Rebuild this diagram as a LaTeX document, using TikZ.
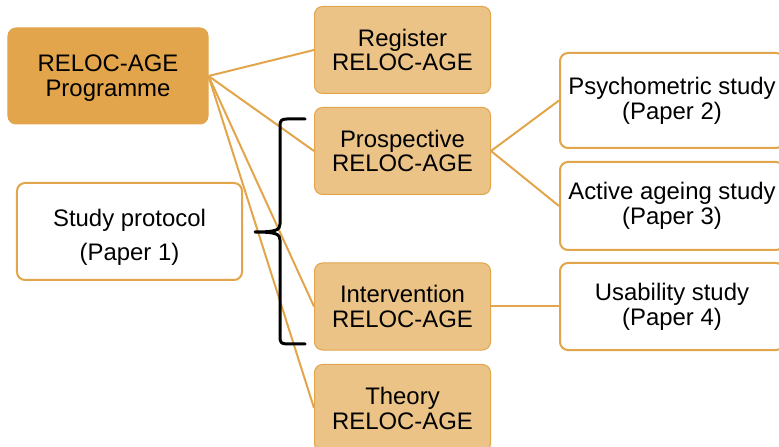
\documentclass[tikz,border=0pt]{standalone}
\usepackage{fontspec}
\setmainfont{Liberation Sans}
\definecolor{orangeA}{HTML}{E2A54B}
\definecolor{orangeB}{HTML}{EBC386}
\begin{document}
\begin{tikzpicture}[x=1bp,y=-1bp,
  base/.style={rounded corners=8bp, inner sep=0pt, align=center, font=\fontsize{24}{25}\selectfont},
  mainbox/.style={base, fill=orangeA, draw=orangeA, line width=1bp, minimum width=200bp, minimum height=96bp},
  subbox/.style={base, fill=orangeB, draw=orangeA, line width=1bp, minimum width=176bp, minimum height=87bp},
  paperbox/.style={base, fill=white, draw=orangeA, line width=2bp, minimum width=224bp, minimum height=88bp},
  plaintext/.style={inner sep=0pt, align=center},
  link/.style={draw=orangeA, line width=2bp},
  brace/.style={draw=black, line width=3bp, line cap=round, line join=round}]
\useasboundingbox (0,0) rectangle (779,447);
\clip (0,0) rectangle (779,447);
\node[mainbox] (main) at (108,76) {};
\node[plaintext, font=\fontsize{24}{25}\selectfont] (mainText) at (108,78) {RELOC-AGE\\Programme};
\node[subbox] (reg) at (402.5,50) {Register\\RELOC-AGE};
\node[subbox] (pros) at (402.5,151) {Prospective\\RELOC-AGE};
\node[subbox] (interv) at (402.5,306.5) {Intervention\\RELOC-AGE};
\node[subbox] (theory) at (402.5,408) {Theory\\RELOC-AGE};
\node[paperbox, minimum width=225bp, minimum height=97bp] (proto) at (129.5,231.5) {};
\node[plaintext, font=\fontsize{24}{34}\selectfont] (protoText) at (129.5,237) {Study protocol\\(Paper 1)};
\node[paperbox, minimum height=95bp] (psy) at (672,100.5) {Psychometric study\\(Paper 2)};
\node[paperbox] (act) at (672,206) {Active ageing study\\(Paper 3)};
\node[paperbox, minimum height=87bp] (usa) at (672,306.5) {Usability study\\(Paper 4)};
\draw[link] (main.east) -- (reg.west);
\draw[link] (main.east) -- (pros.west);
\draw[link] (main.east) -- (interv.west);
\draw[link] (main.east) -- (theory.west);
\draw[link] (pros.east) -- (psy.west);
\draw[link] (pros.east) -- (act.west);
\draw[link] (interv.east) -- (usa.west);
\draw[brace] (305,119) -- (287,119) .. controls (281,119) and (280,121) .. (280,126) -- (280,224) .. controls (280,230) and (276,232) .. (255,232) .. controls (276,232) and (280,234) .. (280,240) -- (280,337) .. controls (280,342) and (281,344) .. (287,344) -- (305,344);
\end{tikzpicture}
\end{document}
